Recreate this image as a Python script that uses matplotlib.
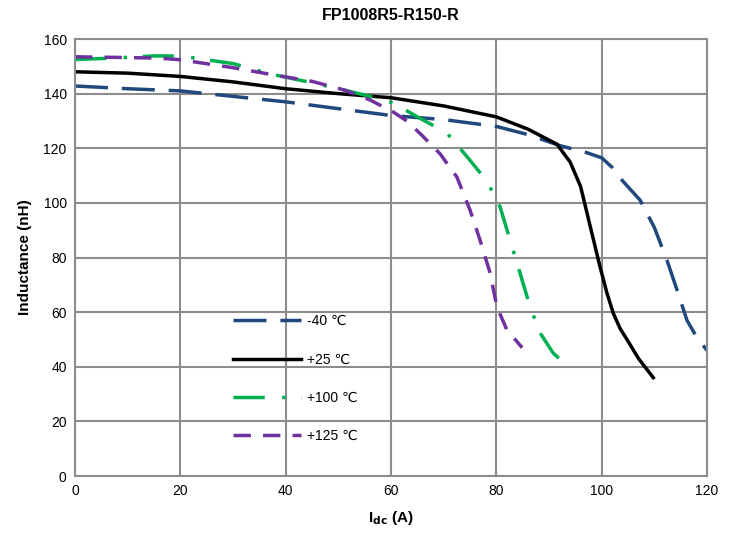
import matplotlib
matplotlib.use("Agg")
import matplotlib.pyplot as plt

plt.rcParams['font.family'] = ['Liberation Sans', 'DejaVu Sans']

# data
x_m40 = [0, 10, 20, 30, 40, 50, 60, 70, 80, 86, 92, 97, 100, 102, 104, 107.3, 110, 112.4, 114.5, 116.2, 118, 120]
y_m40 = [142.8, 141.8, 141, 139, 137, 134.5, 132, 130.5, 128, 125, 121, 118.5, 116.5, 113, 108, 101, 91, 79, 67, 57, 51, 46]

x_25 = [0, 10, 20, 30, 40, 50, 60, 70, 80, 86, 91.5, 94, 96, 98, 99.7, 101, 102.2, 103.5, 104.8, 107, 109.8]
y_25 = [148, 147.5, 146.3, 144.3, 141.8, 140, 138.5, 135.5, 131.5, 127, 121.5, 115, 106, 90, 76.5, 67, 59.6, 54, 50, 43, 36]

x_100 = [0, 7, 14.8, 20, 30, 37.6, 45, 51, 56, 60.4, 65, 70.6, 74.4, 78.2, 80.7, 82.6, 84.5, 86.4, 88.3, 90.8, 92.5, 94]
y_100 = [152.5, 153, 153.8, 153.8, 151, 147, 144, 141.4, 139, 136.6, 131.5, 125.6, 117, 108, 98.6, 86.4, 74.3, 62, 52.4, 45, 42, 39.6]

x_125 = [0, 10, 16, 20, 30, 37.6, 45, 51, 56, 60.4, 63, 66, 69.3, 72.5, 75, 76.9, 78.8, 80.1, 82, 84.9]
y_125 = [153.5, 153.2, 153, 152.4, 149.5, 146.9, 144.5, 141.4, 137.7, 133.3, 130, 124.5, 118, 109.5, 97.4, 86.4, 74.4, 62, 53.5, 47]

labels = ['-40 ℃', '+25 ℃', '+100 ℃', '+125 ℃']

fig = plt.figure(figsize=(7.37, 5.33), dpi=100)
ax = fig.add_axes([0.1018, 0.1069, 0.8575, 0.8199])

ax.plot(x_m40, y_m40, color='#1F497D', lw=2.5, dashes=(9.5, 4), label=labels[0])
ax.plot(x_25, y_25, color='black', lw=2.5, label=labels[1])
ax.plot(x_100, y_100, color='#00B050', lw=2.5, dashes=(9, 5, 1, 4.5), label=labels[2])
ax.plot(x_125, y_125, color='#7030A0', lw=2.5, dashes=(5, 3.5), label=labels[3])

ax.set_xlim(0, 120)
ax.set_ylim(0, 160)
ax.set_xticks(range(0, 121, 20))
ax.set_yticks(range(0, 161, 20))
ax.grid(True, color='#8c8c8c', lw=1.5)
ax.set_axisbelow(True)
for s in ax.spines.values():
    s.set_color('#8c8c8c')
    s.set_linewidth(1.5)
ax.tick_params(length=0, labelsize=10, pad=6)

ax.set_title('FP1008R5-R150-R', fontsize=11.5, fontweight='bold', pad=14)
ax.set_xlabel(r'I$_{\mathbf{dc}}$ (A)', fontsize=11, fontweight='bold', labelpad=8)
ax.set_ylabel('Inductance (nH)', fontsize=11, fontweight='bold', labelpad=8)

ax.legend(loc='upper left', bbox_to_anchor=(0.25, 0.37), frameon=False, fontsize=10,
          handlelength=4.9, handletextpad=0.4, labelspacing=1.75, borderpad=0, borderaxespad=0)

fig.savefig('out.png', dpi=100)
